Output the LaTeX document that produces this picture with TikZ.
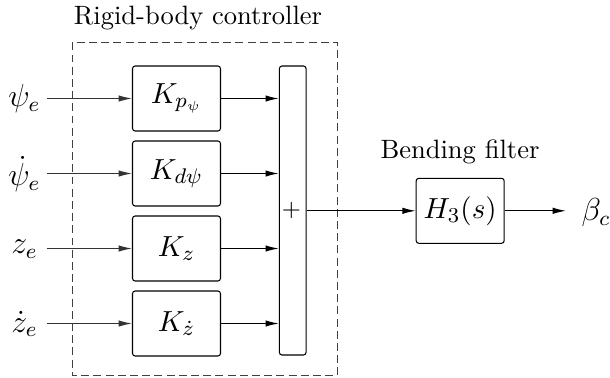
\documentclass[tikz,border=0pt]{standalone}
\usetikzlibrary{arrows.meta}
\begin{document}
\begin{tikzpicture}[x=0.377pt,y=-0.377pt,
  blk/.style={draw,rounded corners=1pt,minimum width=88*0.377pt,minimum height=65*0.377pt,inner sep=0pt,font=\fontsize{11}{13}\selectfont},
  sumbar/.style={draw,rounded corners=1pt,minimum width=26.7*0.377pt,minimum height=289*0.377pt,inner sep=0pt},
  arr/.style={-{Latex[length=5pt,width=2.4pt]},line width=0.4pt},
  lbl/.style={font=\fontsize{11.5}{13}\selectfont,inner sep=0pt},
  txt/.style={inner sep=0pt}]
\useasboundingbox (0,0) rectangle (610,377);
\draw[dash pattern=on 3pt off 1.6pt,black!75] (72.7,42.3) rectangle (337.3,375.5);
\node[txt] (title) at (198,18) {Rigid-body controller};
\node[blk] (k1) at (176.5,98.5) {$K_{p_\psi}$};
\node[blk] (k2) at (176.5,173.5) {$K_{d\psi}$};
\node[blk] (k3) at (176.5,248.5) {$K_z$};
\node[blk] (k4) at (176.5,323.5) {$K_{\dot z}$};
\node[sumbar] (sum) at (292.7,210.5) {};
\node[txt,font=\small] (plus) at (291.5,210.7) {$+$};
\node[lbl] (i1) at (24.5,99) {$\psi_e$};
\node[lbl] (i2) at (24.5,174) {$\dot\psi_e$};
\node[lbl] (i3) at (24.5,249) {$z_e$};
\node[lbl] (i4) at (24.5,324) {$\dot z_e$};
\coordinate (s1) at (46.7,98.5);
\coordinate (s2) at (46.7,173.5);
\coordinate (s3) at (46.7,248.5);
\coordinate (s4) at (46.7,323.5);
\foreach \i in {1,2,3,4} {
  \draw[arr,black!80] (s\i) -- (k\i.west);
  \draw[arr] (k\i.east) -- (sum.west |- k\i.east);
}
\node[blk] (h) at (460.2,210.8) {$H_3(s)$};
\node[txt] (bf) at (460,152) {Bending filter};
\draw[arr] (sum.east |- h.west) -- (h.west);
\coordinate (e) at (566,210.8);
\draw[arr] (h.east) -- (e);
\node[lbl] (beta) at (596,213) {$\beta_c$};
\end{tikzpicture}
\end{document}
